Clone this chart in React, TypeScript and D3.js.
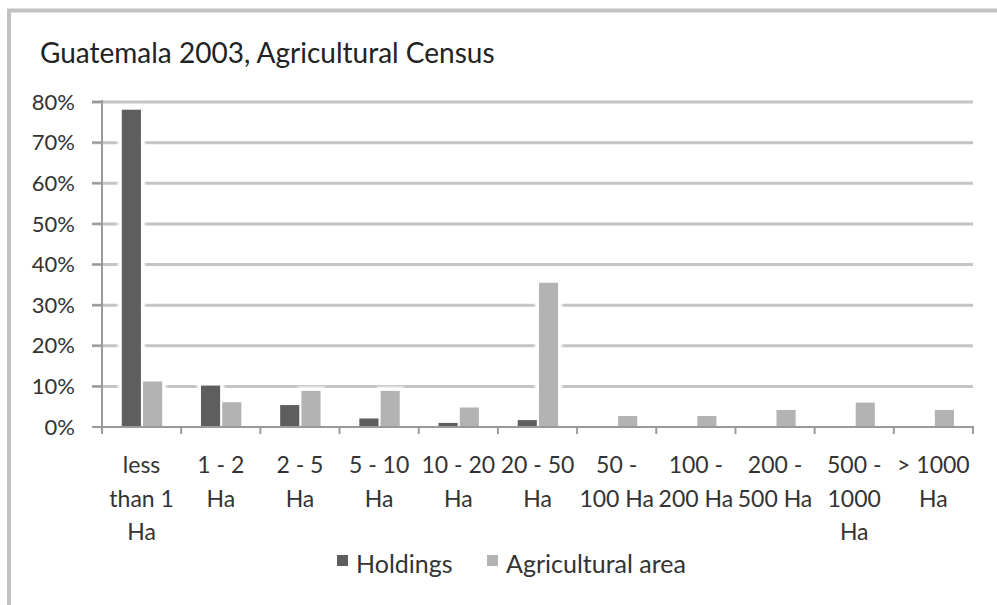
import React from "react";
import * as d3 from "d3";

// Farm size classes (hectares), split into label lines
const categories: string[][] = [
  ["less", "than 1", "Ha"],
  ["1 - 2", "Ha"],
  ["2 - 5", "Ha"],
  ["5 - 10", "Ha"],
  ["10 - 20", "Ha"],
  ["20 - 50", "Ha"],
  ["50 -", "100 Ha"],
  ["100 -", "200 Ha"],
  ["200 -", "500 Ha"],
  ["500 -", "1000", "Ha"],
  ["> 1000", "Ha"],
];

// Share of holdings and of agricultural area per size class (%)
const holdings = [78.1, 10.2, 5.4, 2.1, 1.0, 1.7, 0, 0, 0, 0, 0];
const agriculturalArea = [11.2, 6.1, 8.9, 8.9, 4.8, 35.5, 2.7, 2.7, 4.2, 6.0, 4.2];

const yTicks = [0, 10, 20, 30, 40, 50, 60, 70, 80];
const seriesNames = ["Holdings", "Agricultural area"];
const seriesColors = ["#5e5e5e", "#b3b3b3"];

const W = 997;
const H = 605;
const FONT = "Lato, 'Open Sans', sans-serif";

export default function App() {
  const keys = categories.map((c) => c.join(" "));
  const x = d3.scaleBand<string>().domain(keys).range([102, 973]).padding(0);
  const y = d3.scaleLinear().domain([0, 80]).range([427, 102]);
  const bw = x.bandwidth();
  const inner = d3
    .scaleBand<string>()
    .domain(seriesNames)
    .range([bw * 0.25, bw * 0.76])
    .paddingInner(0.1);

  const series = [holdings, agriculturalArea];
  const bounds = [...keys.map((k) => x(k)!), 973];

  return (
    <svg width={W} height={H} style={{ position: "absolute", left: 0, top: 0 }}>
      <defs>
        <filter id="soft" x="-30%" y="-30%" width="160%" height="160%">
          <feGaussianBlur stdDeviation="1.2" />
        </filter>
      </defs>
      <rect x={0} y={0} width={W} height={H} fill="#fff" />
      {/* frame */}
      <path d={`M9,${H + 5} L9,10.5 L${W + 5},10.5`} fill="none" stroke="#c2c2c2" strokeWidth={4} />

      <text x={40} y={63} fontFamily={FONT} fontSize={28} fill="#222">
        Guatemala 2003, Agricultural Census
      </text>

      {/* gridlines and y ticks */}
      {yTicks.map((t) => (
        <g key={t}>
          {t > 0 && (
            <line x1={92} x2={973} y1={y(t)} y2={y(t)} stroke="#c4c4c4" strokeWidth={3} />
          )}
          <text
            x={75}
            y={y(t)}
            dy="0.35em"
            textAnchor="end"
            fontFamily={FONT}
            fontSize={22}
            fill="#333"
          >
            {t}%
          </text>
        </g>
      ))}

      {/* bars with a white halo */}
      {keys.map((k, i) =>
        series.map((s, j) => {
          const v = s[i];
          if (v <= 0) return null;
          const bx = x(k)! + inner(seriesNames[j])!;
          const by = y(v);
          const h = y(0) - by;
          return (
            <rect
              key={`h${k}${j}`}
              x={bx - 4}
              y={by - 4}
              width={inner.bandwidth() + 8}
              height={h + 4}
              fill="#fff"
              filter="url(#soft)"
            />
          );
        })
      )}
      {keys.map((k, i) =>
        series.map((s, j) => {
          const v = s[i];
          if (v <= 0) return null;
          const bx = x(k)! + inner(seriesNames[j])!;
          const by = y(v);
          return (
            <rect
              key={`b${k}${j}`}
              x={bx}
              y={by}
              width={inner.bandwidth()}
              height={y(0) - by}
              fill={seriesColors[j]}
            />
          );
        })
      )}

      {/* axes */}
      <line x1={102} x2={102} y1={y(80) - 2} y2={y(0) + 1} stroke="#9a9a9a" strokeWidth={2} />
      <line x1={92} x2={102} y1={y(80)} y2={y(80)} stroke="#c4c4c4" strokeWidth={3} />
      {yTicks.map((t) => (
        <line key={`yt${t}`} x1={92} x2={102} y1={y(t)} y2={y(t)} stroke="#9a9a9a" strokeWidth={2} />
      ))}
      <line x1={92} x2={974} y1={y(0)} y2={y(0)} stroke="#9a9a9a" strokeWidth={2} />
      {bounds.map((bx, i) => (
        <line key={`xt${i}`} x1={bx} x2={bx} y1={y(0)} y2={y(0) + 7} stroke="#9a9a9a" strokeWidth={2} />
      ))}

      {/* category labels */}
      {categories.map((lines, i) => (
        <text
          key={`c${i}`}
          x={x(keys[i])! + bw / 2}
          textAnchor="middle"
          fontFamily={FONT}
          fontSize={23}
          fill="#333"
        >
          {lines.map((l, li) => (
            <tspan key={li} x={x(keys[i])! + bw / 2} y={473 + li * 33.5}>
              {l}
            </tspan>
          ))}
        </text>
      ))}

      {/* legend */}
      {seriesNames.map((n, j) => {
        const lx = j === 0 ? 337 : 487;
        return (
          <g key={n}>
            <rect x={lx} y={555} width={11} height={11} fill={seriesColors[j]} />
            <text x={lx + 19} y={573} fontFamily={FONT} fontSize={25} fill="#333">
              {n}
            </text>
          </g>
        );
      })}
    </svg>
  );
}
